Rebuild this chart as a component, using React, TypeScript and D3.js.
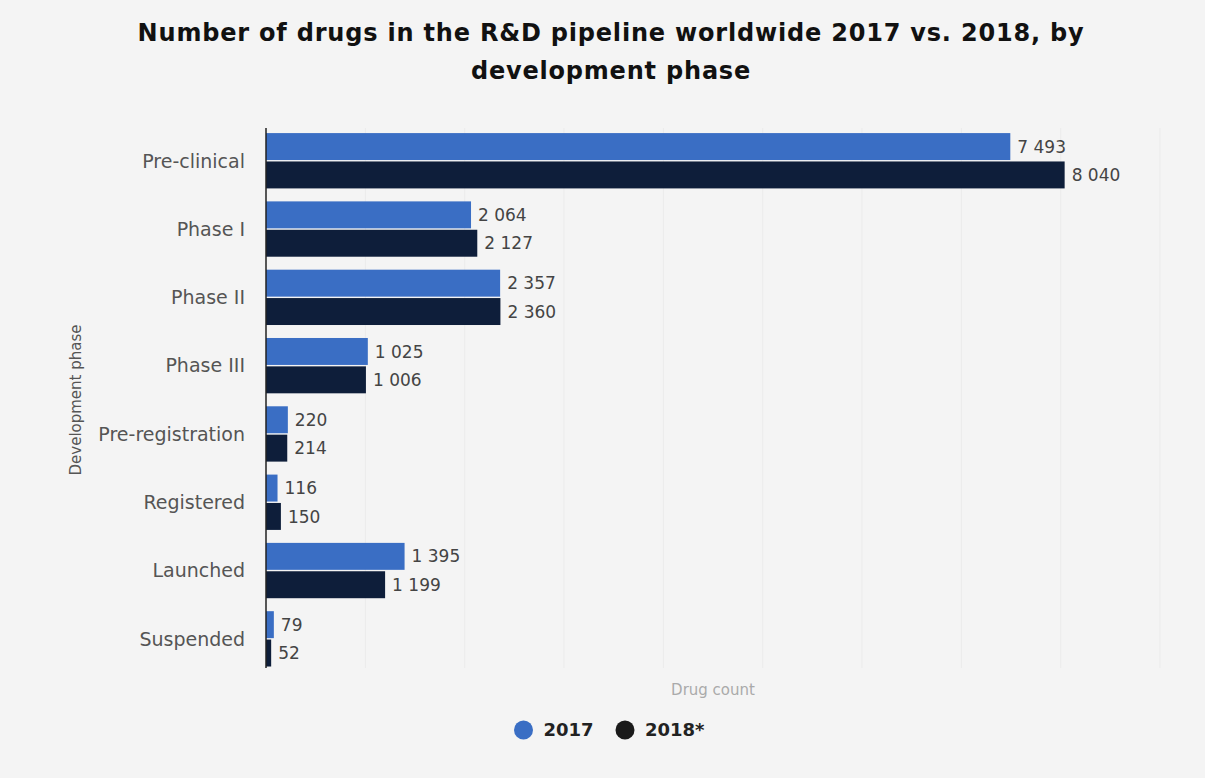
import React, { useEffect, useRef } from 'react';
import * as d3 from 'd3';

// Chart data
const phases = [
  'Pre-clinical',
  'Phase I',
  'Phase II',
  'Phase III',
  'Pre-registration',
  'Registered',
  'Launched',
  'Suspended',
];
const series = ['2017', '2018*'];
const values2017 = [7493, 2064, 2357, 1025, 220, 116, 1395, 79];
const values2018 = [8040, 2127, 2360, 1006, 214, 150, 1199, 52];
const gridTicks = [1000, 2000, 3000, 4000, 5000, 6000, 7000, 8000, 9000];

const WIDTH = 1205;
const HEIGHT = 778;
const colors = ['#3a6ec4', '#0e1e3a'];
const FONT = 'DejaVu Sans, sans-serif';

export default function App() {
  const svgRef = useRef<SVGSVGElement>(null);

  useEffect(() => {
    if (!svgRef.current) return;
    const svg = d3.select(svgRef.current);
    svg.selectAll('*').remove();

    const fmt = d3.formatLocale({
      decimal: '.',
      thousands: ' ',
      grouping: [3],
      currency: ['', ''],
    }).format(',d');

    // background
    svg.append('rect')
      .attr('width', WIDTH)
      .attr('height', HEIGHT)
      .attr('fill', '#f4f4f4');

    const x = d3.scaleLinear().domain([0, 9000]).range([266, 1160]);
    const y = d3.scaleBand<string>()
      .domain(phases)
      .range([126.6, 673])
      .paddingInner(0.19)
      .paddingOuter(0.095);
    const ySub = d3.scaleBand<string>()
      .domain(series)
      .range([0, y.bandwidth()])
      .paddingInner(0.05);

    // faint grid
    svg.append('g')
      .selectAll('line')
      .data(gridTicks)
      .join('line')
      .attr('x1', d => x(d))
      .attr('x2', d => x(d))
      .attr('y1', 128)
      .attr('y2', 668)
      .attr('stroke', '#ebebeb')
      .attr('stroke-width', 1);

    // title
    const title = svg.append('text')
      .attr('text-anchor', 'middle')
      .attr('font-family', FONT)
      .attr('font-weight', 'bold')
      .attr('font-size', 24)
      .attr('letter-spacing', 0.8)
      .attr('fill', '#111');
    title.append('tspan').attr('x', 611).attr('y', 41)
      .text('Number of drugs in the R&D pipeline worldwide 2017 vs. 2018, by');
    title.append('tspan').attr('x', 611).attr('y', 79)
      .text('development phase');

    const rows = phases.map((p, i) => ({
      phase: p,
      vals: [values2017[i], values2018[i]],
    }));

    const groups = svg.append('g')
      .selectAll('g')
      .data(rows)
      .join('g')
      .attr('transform', d => `translate(0,${y(d.phase)})`);

    groups.selectAll('rect')
      .data(d => d.vals.map((v, j) => ({ key: series[j], v, j })))
      .join('rect')
      .attr('x', x(0))
      .attr('y', d => ySub(d.key)!)
      .attr('width', d => x(d.v) - x(0))
      .attr('height', ySub.bandwidth())
      .attr('fill', d => colors[d.j]);

    groups.selectAll('text.val')
      .data(d => d.vals.map((v, j) => ({ key: series[j], v })))
      .join('text')
      .attr('class', 'val')
      .attr('x', d => x(d.v) + 7)
      .attr('y', d => ySub(d.key)! + ySub.bandwidth() / 2)
      .attr('dy', '0.36em')
      .attr('font-family', FONT)
      .attr('font-size', 17)
      .attr('fill', '#444')
      .text(d => fmt(d.v));

    // category labels
    groups.append('text')
      .attr('x', 245)
      .attr('y', y.bandwidth() / 2)
      .attr('dy', '0.36em')
      .attr('text-anchor', 'end')
      .attr('font-family', FONT)
      .attr('font-size', 19)
      .attr('fill', '#555')
      .text(d => d.phase);

    // y axis line
    svg.append('line')
      .attr('x1', x(0)).attr('x2', x(0))
      .attr('y1', 128).attr('y2', 668)
      .attr('stroke', '#222')
      .attr('stroke-width', 1.5);

    // axis titles
    svg.append('text')
      .attr('transform', 'translate(81,400) rotate(-90)')
      .attr('text-anchor', 'middle')
      .attr('font-family', FONT)
      .attr('font-size', 15)
      .attr('fill', '#555')
      .text('Development phase');

    svg.append('text')
      .attr('x', 713)
      .attr('y', 695)
      .attr('text-anchor', 'middle')
      .attr('font-family', FONT)
      .attr('font-size', 15)
      .attr('fill', '#aaa')
      .text('Drug count');

    // legend
    const legendX = [523.5, 625];
    const legend = svg.append('g')
      .selectAll('g')
      .data(series)
      .join('g')
      .attr('transform', (d, i) => `translate(${legendX[i]},730)`);
    legend.append('circle')
      .attr('r', 9.5)
      .attr('fill', (d, i) => (i === 0 ? '#3a6ec4' : '#1a1a1a'));
    legend.append('text')
      .attr('x', 20)
      .attr('dy', '0.36em')
      .attr('font-family', FONT)
      .attr('font-weight', 'bold')
      .attr('font-size', 18)
      .attr('fill', '#222')
      .text(d => d);
  }, []);

  return (
    <svg
      ref={svgRef}
      width={WIDTH}
      height={HEIGHT}
      style={{ position: 'absolute', left: 0, top: 0 }}
    />
  );
}
